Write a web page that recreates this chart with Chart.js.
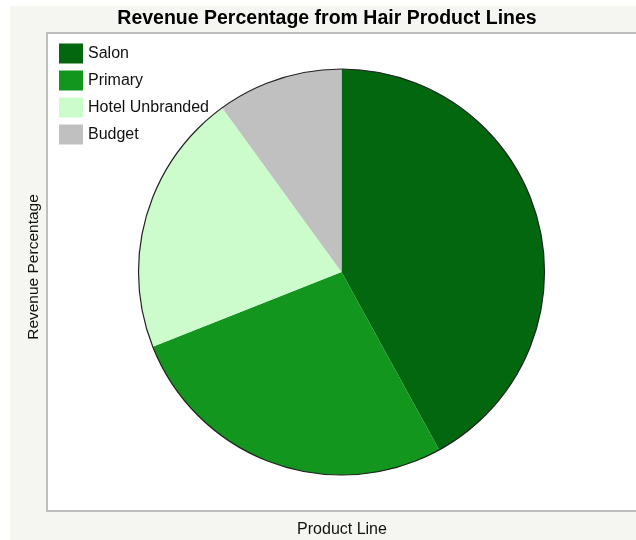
<!DOCTYPE html>
<html>
<head>
<meta charset="utf-8">
<script src="https://cdn.jsdelivr.net/npm/chart.js@4/dist/chart.umd.min.js"></script>
<style>
    body { margin: 0; background: #ffffff; }
    #wrap { width: 636px; height: 540px; }
</style>
</head>
<body>
<div id="wrap"><canvas id="myPieChart" width="636" height="540"></canvas></div>
<script>
const productLines = ['Salon', 'Primary', 'Hotel Unbranded', 'Budget'];
const revenuePercent = [42, 27, 21, 10];
const sliceColors = ['#02670f', '#13961e', '#ccfccc', '#c0c0c0'];

const chartTitle = 'Revenue Percentage from Hair Product Lines';
const xAxisLabel = 'Product Line';
const yAxisLabel = 'Revenue Percentage';

const FONT = '"Liberation Sans", Arial, Helvetica, sans-serif';

// background, plot frame, outline, legend and labels
const framePlugin = {
    id: 'frame',
    beforeDraw(chart) {
        const ctx = chart.ctx;
        const area = chart.chartArea;
        ctx.save();
        ctx.fillStyle = '#f5f5f1';
        ctx.fillRect(10, 6, chart.width - 10, chart.height - 6);
        ctx.fillStyle = '#ffffff';
        ctx.fillRect(area.left, area.top, area.right - area.left, area.bottom - area.top);
        ctx.strokeStyle = '#aaaaaa';
        ctx.lineWidth = 1.5;
        ctx.strokeRect(area.left, area.top, area.right - area.left + 5, area.bottom - area.top);
        ctx.restore();
    },
    afterDatasetsDraw(chart) {
        const ctx = chart.ctx;
        const arc = chart.getDatasetMeta(0).data[0];
        if (!arc) return;
        ctx.save();
        ctx.strokeStyle = '#222222';
        ctx.lineWidth = 1.2;
        ctx.beginPath();
        ctx.arc(arc.x, arc.y, arc.outerRadius, 0, Math.PI * 2);
        ctx.stroke();
        ctx.restore();
    },
    afterDraw(chart) {
        const ctx = chart.ctx;
        const area = chart.chartArea;
        ctx.save();

        // legend
        ctx.font = '16px ' + FONT;
        ctx.textBaseline = 'middle';
        ctx.textAlign = 'left';
        productLines.forEach((label, i) => {
            const top = area.top + 10.5 + i * 27;
            ctx.fillStyle = sliceColors[i];
            ctx.fillRect(59, top, 24, 20);
            ctx.fillStyle = '#111111';
            ctx.fillText(label, 88, top + 10.5);
        });

        // title
        ctx.font = 'bold 19.5px ' + FONT;
        ctx.textAlign = 'center';
        ctx.fillStyle = '#000000';
        ctx.fillText(chartTitle, 327, 18.5);

        // axis labels
        ctx.font = '16px ' + FONT;
        ctx.fillStyle = '#111111';
        ctx.fillText(xAxisLabel, 342, 530);
        ctx.font = '15.5px ' + FONT;
        ctx.translate(34, 267);
        ctx.rotate(-Math.PI / 2);
        ctx.fillText(yAxisLabel, 0, 0);
        ctx.restore();
    }
};

function createPieChart() {
    const ctx = document.getElementById('myPieChart').getContext('2d');
    new Chart(ctx, {
        type: 'pie',
        data: {
            labels: productLines,
            datasets: [{
                data: revenuePercent,
                backgroundColor: sliceColors,
                borderWidth: 0
            }]
        },
        options: {
            responsive: false,
            animation: false,
            radius: 203,
            layout: {
                padding: { left: 47, top: 33, right: 0, bottom: 29 }
            },
            plugins: {
                legend: { display: false },
                title: { display: false },
                tooltip: { enabled: false }
            }
        },
        plugins: [framePlugin]
    });
}

createPieChart();
</script>
</body>
</html>
